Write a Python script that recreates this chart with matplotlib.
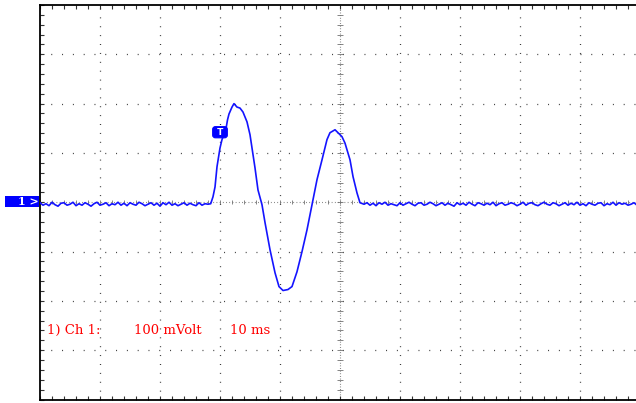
import numpy as np
import matplotlib
matplotlib.use("Agg")
import matplotlib.pyplot as plt
from matplotlib.patches import Rectangle

# ---------------- data (time in ms, voltage in mV) ----------------
base_left_v = [-1, -6, -3, -7, 0, -5, -8, -2, -1, -6,
               -4, 0, -7, -3, -6, -1, -4, -8, -3, 0,
               -6, -4, -1, -7, -3, -5, 0, -6, -2, -7,
               -1, -4, -6, 0, -3, -7, -4, -1, -6, -2,
               -8, -1, -5, 0, -6, -3, -7, -4, -1, -6,
               -2, -5, -7, -1, -6, -3, -4]
base_left_t = np.linspace(0.0, 28.0, len(base_left_v))

pulse_t = [28.45, 28.83, 29.17, 29.5, 30.0, 30.33, 31.0, 31.25, 31.5, 32.0,
           32.33, 32.83, 33.33, 33.83, 34.5, 35.0, 35.83, 36.33, 37.0, 37.5,
           38.33, 39.17, 39.83, 40.5, 41.33, 42.0, 42.83, 43.67, 44.5, 45.33,
           46.17, 47.0, 47.83, 48.33, 49.17, 49.67, 50.33, 50.83, 51.67, 52.17,
           52.83, 53.33]
pulse_v = [-3, 11, 31, 72, 110, 127, 149, 167, 179, 193,
           200, 193, 191, 183, 163, 137, 70, 25, -5, -41,
           -96, -143, -171, -179, -177, -171, -141, -100, -56, -5,
           46, 86, 127, 141, 147, 141, 133, 120, 86, 52,
           19, -1]

base_right_v = [-4, -1, -6, -2, -7, -1, -4, 0, -6, -3,
                -5, -7, -1, -6, -3, 0, -4, -7, -2, -1,
                -6, -4, 0, -3, -7, -4, -1, -6, -2, -5,
                -8, -1, -5, -2, -6, 0, -4, -7, -1, -3,
                -6, -2, -5, 0, -7, -3, -1, -6, -4, -1,
                -3, -7, -4, 0, -6, -2, -1, -5, -7, -3,
                0, -4, -6, -1, -3, -7, -4, -1, -6, -2,
                -5, 0, -6, -3, -7, -1, -4, -6, -2, -1,
                -7, -3, -5, 0, -6, -1, -4, -2, -6, -4,
                -1, -6, -3]
base_right_t = np.linspace(54.0, 100.0, len(base_right_v))

trig_t, trig_v = 30.0, 142.0
caption_parts = ["1) Ch 1:", "100 mVolt", "10 ms"]
caption_px = [47, 134, 230]

t = np.concatenate([base_left_t, pulse_t, base_right_t])
v = np.concatenate([base_left_v, pulse_v, base_right_v])

# ---------------- figure ----------------
W, H = 636, 403
fig = plt.figure(figsize=(W / 100, H / 100), dpi=100)
fig.patch.set_facecolor("white")
ax = fig.add_axes([40 / W, (H - 399.5) / H, 600 / W, 394.5 / H])
ax.set_xlim(0, 100)
ax.set_ylim(-400, 400)
ax.set_facecolor("white")

dot_col = "#303030"
cross_col = "#707070"
# major dotted grid
for xg in np.arange(10, 100, 10):
    if xg == 50:
        continue
    ax.axvline(xg, color=dot_col, lw=0.9, linestyle=(0, (0.75, 6.36)), zorder=1)
for yg in np.arange(-300, 400, 100):
    if yg == 0:
        continue
    ax.axhline(yg, color=dot_col, lw=0.9, linestyle=(0, (0.75, 7.89)), zorder=1)

# centre cross (denser dots + small crossing ticks)
ax.axvline(50, color=cross_col, lw=0.8, linestyle=(0, (0.72, 1.65)), zorder=1)
ax.axhline(0, color=cross_col, lw=0.8, linestyle=(0, (0.72, 2.16)), zorder=1)
xm = np.arange(2, 100, 2)
ym = np.arange(-380, 400, 20)
ax.plot(xm, np.zeros_like(xm), linestyle="none", marker="|", markersize=3.5,
        markeredgewidth=0.6, color=cross_col, zorder=1)
ax.plot(np.full_like(ym, 50.0, dtype=float), ym, linestyle="none", marker="_",
        markersize=4.5, markeredgewidth=0.6, color=cross_col, zorder=1)

# frame & ticks
for s in ["left", "top", "bottom"]:
    ax.spines[s].set_linewidth(1.3)
    ax.spines[s].set_color("black")
ax.spines["right"].set_visible(False)
ax.set_xticks(np.arange(0, 101, 10))
ax.set_yticks(np.arange(-400, 401, 100))
ax.set_xticks(np.arange(0, 101, 2), minor=True)
ax.set_yticks(np.arange(-400, 401, 20), minor=True)
ax.tick_params(which="both", direction="in", length=2.8, width=0.8, color="#333333",
               top=True, bottom=True, left=True, right=False,
               labelbottom=False, labelleft=False)

# trace
ax.plot(t, v, color="#1414ff", lw=1.2, zorder=3)

# trigger marker
ax.text(trig_t, trig_v, " T ", ha="center", va="center", color="white",
        fontsize=6.5, fontweight="bold", family="DejaVu Sans", zorder=4,
        bbox=dict(boxstyle="round,pad=0.12,rounding_size=0.3", fc="#0000ff",
                  ec="#0000ff", lw=0.8))

# channel marker on the left
fig.patches.append(Rectangle((5 / W, (H - 207) / H), 34 / W, 11 / H,
                             transform=fig.transFigure, fc="#0000ff", ec="none"))
fig.text(28 / W, (H - 201.5) / H, "1 >", color="white", fontsize=8,
         fontweight="bold", family="DejaVu Serif", ha="center", va="center")

# caption
for s, px in zip(caption_parts, caption_px):
    fig.text(px / W, (H - 334) / H, s, color="#ff0000", fontsize=9.5,
             family="DejaVu Serif", ha="left", va="baseline")

fig.savefig("out.png", dpi=100)
